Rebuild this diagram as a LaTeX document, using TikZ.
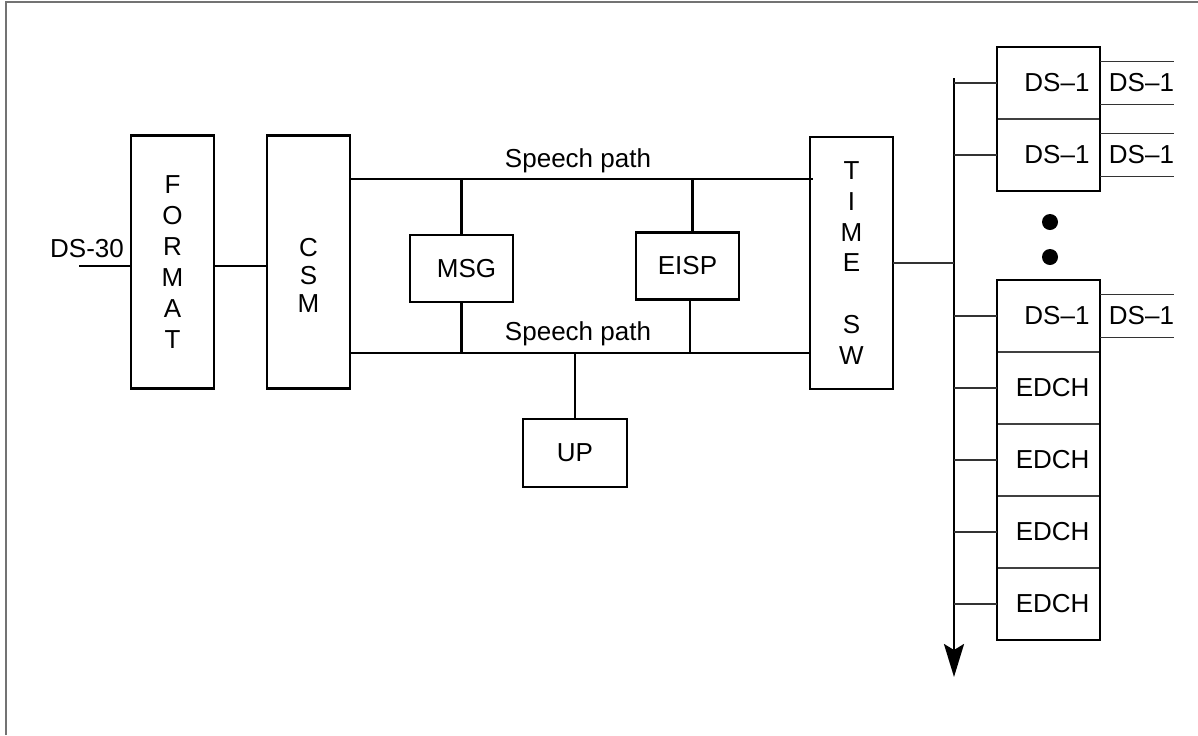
\documentclass[tikz,border=0pt]{standalone}
\usepackage{fontspec}
\setmainfont{Liberation Sans}
\usetikzlibrary{arrows.meta,positioning,fit}
\newcommand{\dfont}{\fontsize{14.8}{17.6}\selectfont}

\begin{document}
\begin{tikzpicture}[
  x=0.02cm, y=-0.02cm,
  blk/.style={draw,line width=1.4pt,inner sep=0pt,outer sep=0pt,
              font=\dfont,align=center},
  tall/.style={blk,minimum width=1.66cm,minimum height=5.06cm},
  unit/.style={blk,minimum width=2.06cm,minimum height=1.34cm},
  cell/.style={draw=black!75,line width=0.9pt,inner sep=0pt,outer sep=0pt,
               minimum width=2.06cm,minimum height=1.44cm,font=\dfont,
               text width=1.64cm,align=right},
  outl/.style={inner sep=0pt,outer sep=0pt,minimum width=1.48cm,
               minimum height=0.86cm,font=\dfont,text width=1.48cm,align=right},
  lbl/.style={font=\dfont,inner sep=1pt},
  wire/.style={line width=1.4pt},
  stub/.style={line width=0.8pt,draw=black!80},
  dot/.style={circle,fill,inner sep=0pt,minimum size=0.32cm}
]
\useasboundingbox (0,0) rectangle (1198,735);

% frame
\draw[line width=1.2pt,black!55] (6,735) -- (6,2) -- (1198,2);

% left column
\node[tall] (format) at (172.5,262) {F\\O\\R\\M\\A\\T};
\node[tall] (csm)    at (308.5,262) {};
\node[blk,draw=none,font=\fontsize{14.8}{15.9}\selectfont] (csmtxt) at (308.5,275) {C\\S\\M};
\node[lbl] (ds30) at (87,249) {DS-30};
\coordinate (ds30in) at (79,266);

\draw[wire] (ds30in) -- (ds30in -| format.west);
\draw[wire] (format.east |- ds30in) -- (csm.west |- ds30in);

% speech paths
\node[tall,minimum height=5.04cm] (tsw) at (851.5,263) {T\\I\\M\\E\\[17.6pt]S\\W};
\coordinate (sptop) at (578,179);
\coordinate (spbot) at (578,353);
\node[lbl,anchor=base] (sptxt1) at (578,167) {Speech path};
\node[lbl,anchor=base] (sptxt2) at (578,340) {Speech path};

\draw[wire] (csm.east |- sptop) -- ([xshift=0.06cm]tsw.west |- sptop);
\draw[wire] (csm.east |- spbot) -- (tsw.west |- spbot);

\node[unit] (msg)  at (461.5,268.5) {\hspace{0.2cm}MSG};
\node[unit] (eisp) at (687.5,266)   {EISP};
\node[unit,minimum width=2.08cm,minimum height=1.36cm] (up) at (575,453) {UP};

\draw[wire] (msg.north) -- (msg.north |- sptop);
\draw[wire] (msg.south) -- (msg.south |- spbot);
\draw[wire] ([xshift=0.1cm]eisp.north) -- ([xshift=0.1cm]eisp.north |- sptop);
\draw[wire] ([xshift=0.05cm]eisp.south) -- ([xshift=0.05cm]eisp.south |- spbot);
\draw[wire] (up.north) -- (up.north |- spbot);

% line cards
\node[cell] (ds1a) at (1048.5,83) {DS--1};
\node[cell,below=0pt of ds1a] (ds1b) {DS--1};
\node[draw,line width=1.4pt,inner sep=0pt,fit=(ds1a)(ds1b)] (topstack) {};

\node[dot] (dot1) at (1050,222) {};
\node[dot] (dot2) at (1050,257) {};

\node[cell] (ds1c) at (1048.5,316) {DS--1};
\node[cell,below=0pt of ds1c]  (edch1) {EDCH};
\node[cell,below=0pt of edch1] (edch2) {EDCH};
\node[cell,below=0pt of edch2] (edch3) {EDCH};
\node[cell,below=0pt of edch3] (edch4) {EDCH};
\node[draw,line width=1.4pt,inner sep=0pt,fit=(ds1c)(edch4)] (botstack) {};

\foreach \c/\o in {ds1a/outa,ds1b/outb,ds1c/outc}{
  \node[outl,right=0pt of \c] (\o) {DS--1};
  \draw[stub] (\o.north west) -- (\o.north east)
              (\o.south west) -- (\o.south east);
}

% bus
\coordinate (bustop) at (954,78);
\coordinate (busend) at (954,677);
\draw[line width=1.5pt,-{Stealth[length=0.66cm,width=0.4cm,inset=0.12cm]}]
  (bustop) -- (busend);
\draw[stub] (tsw.east) -- (tsw.east -| bustop);
\foreach \c in {ds1a,ds1b,ds1c,edch1,edch2,edch3,edch4}
  \draw[stub] (\c.west -| bustop) -- (\c.west);

\end{tikzpicture}
\end{document}
